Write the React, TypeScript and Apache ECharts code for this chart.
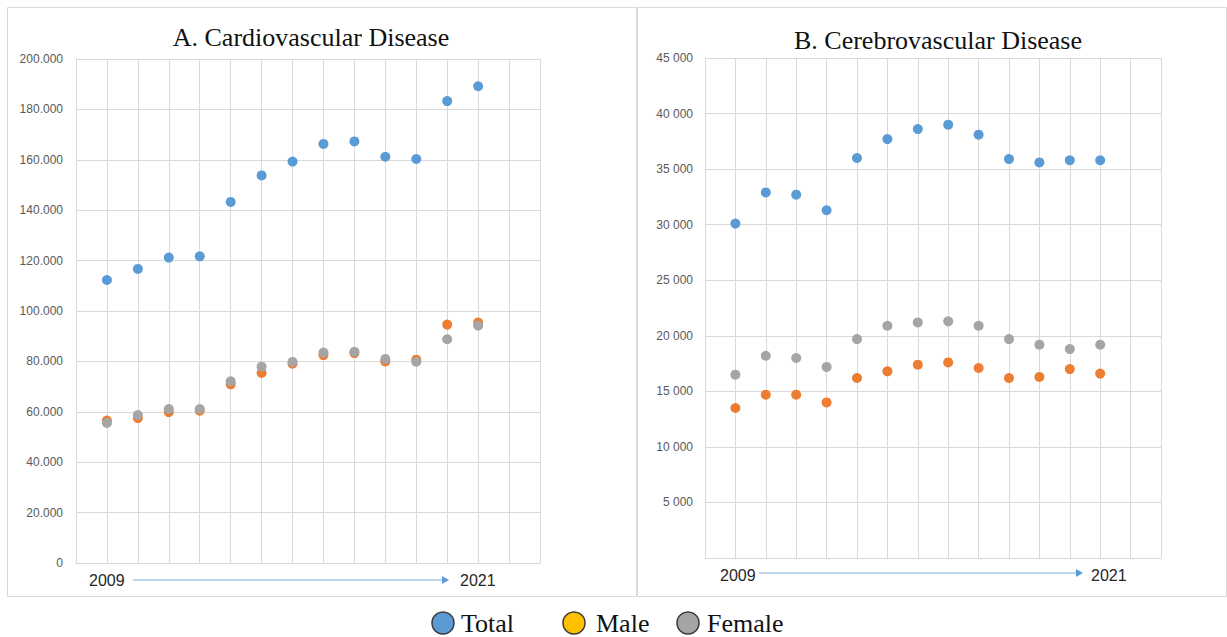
import React, { useEffect, useRef } from "react";
import * as echarts from "echarts";

const years = [2009, 2010, 2011, 2012, 2013, 2014, 2015, 2016, 2017, 2018, 2019, 2020, 2021];

const cvdTotal = [112300, 116700, 121200, 121700, 143300, 153800, 159300, 166300, 167300, 161200, 160300, 183300, 189200];
const cvdMale = [56500, 57500, 59900, 60400, 70900, 75400, 79100, 82500, 83300, 80000, 80700, 94600, 95400];
const cvdFemale = [55600, 58700, 61100, 61100, 72100, 77900, 79800, 83500, 83800, 81000, 79900, 88800, 94200];

const cbvTotal = [30100, 32900, 32700, 31300, 36000, 37700, 38600, 39000, 38100, 35900, 35600, 35800, 35800];
const cbvMale = [13500, 14700, 14700, 14000, 16200, 16800, 17400, 17600, 17100, 16200, 16300, 17000, 16600];
const cbvFemale = [16500, 18200, 18000, 17200, 19700, 20900, 21200, 21300, 20900, 19700, 19200, 18800, 19200];

const titles = ["A. Cardiovascular Disease", "B. Cerebrovascular Disease"];
const legendNames = ["Total", "Male", "Female"];
const seriesColors = ["#5B9BD5", "#ED7D31", "#A5A5A5"];
const legendColors = ["#5B9BD5", "#FFC000", "#A5A5A5"];
const startLabel = "2009";
const endLabel = "2021";

const pairs = (vals: number[]) => years.map((y, i) => [y, vals[i]]);

export default function App() {
  const ref = useRef<HTMLDivElement>(null);
  useEffect(() => {
    if (!ref.current) return;
    const chart = echarts.init(ref.current, undefined, { renderer: "svg" });
    const gridColor = "#d9d9d9";
    const xAxisBase = {
      type: "value",
      min: 2008,
      max: 2023,
      interval: 1,
      axisLabel: { show: false },
      axisTick: { show: false },
      axisLine: { show: true, lineStyle: { color: gridColor } },
      splitLine: { show: true, lineStyle: { color: gridColor } },
    };
    const yAxisBase = {
      type: "value",
      min: 0,
      axisTick: { show: false },
      axisLine: { show: true, lineStyle: { color: gridColor } },
      splitLine: { show: true, lineStyle: { color: gridColor } },
    };
    const sets = [
      [cvdTotal, cvdMale, cvdFemale],
      [cbvTotal, cbvMale, cbvFemale],
    ];
    const series: any[] = [];
    sets.forEach((set, gi) => {
      set.forEach((vals, si) => {
        series.push({
          type: "scatter",
          name: legendNames[si],
          xAxisIndex: gi,
          yAxisIndex: gi,
          symbolSize: 10,
          itemStyle: { color: seriesColors[si], opacity: 1 },
          data: pairs(vals),
        });
      });
    });

    const arrow = (x1: number, x2: number, y: number) => [
      { type: "line", shape: { x1, y1: y, x2: x2 - 6, y2: y }, style: { stroke: "#7FAEDB", lineWidth: 1 } },
      {
        type: "polygon",
        shape: { points: [[x2 - 7, y - 4], [x2, y], [x2 - 7, y + 4]] },
        style: { fill: "#5B9BD5" },
      },
    ];

    const legendItems: any[] = [];
    const legendPos = [
      { cx: 443, tx: 461 },
      { cx: 574, tx: 596 },
      { cx: 688, tx: 707 },
    ];
    legendNames.forEach((n, i) => {
      legendItems.push({
        type: "circle",
        shape: { cx: legendPos[i].cx, cy: 623, r: 11 },
        style: { fill: legendColors[i], stroke: "#3a3a3a", lineWidth: 1.5 },
      });
      legendItems.push({
        type: "text",
        x: legendPos[i].tx,
        y: 623,
        style: {
          text: n,
          font: "26px 'Liberation Serif', 'Times New Roman', serif",
          fill: "#111",
          textVerticalAlign: "middle",
          verticalAlign: "middle",
        },
      });
    });

    const yearFont = "16px 'Liberation Sans', Arial, sans-serif";

    chart.setOption({
      animation: false,
      backgroundColor: "#ffffff",
      grid: [
        { left: 76, top: 59, width: 464, height: 504 },
        { left: 705, top: 58, width: 456, height: 500 },
      ],
      xAxis: [
        { ...xAxisBase, gridIndex: 0 },
        { ...xAxisBase, gridIndex: 1 },
      ],
      yAxis: [
        {
          ...yAxisBase,
          gridIndex: 0,
          max: 200000,
          interval: 20000,
          axisLabel: {
            color: "#595959",
            fontSize: 12,
            margin: 13,
            fontFamily: "'Liberation Sans', Arial, sans-serif",
            formatter: (v: number) => (v === 0 ? "0" : `${v / 1000}.000`),
          },
        },
        {
          ...yAxisBase,
          gridIndex: 1,
          max: 45000,
          interval: 5000,
          axisLabel: {
            color: "#595959",
            fontSize: 12,
            margin: 12,
            fontFamily: "'Liberation Sans', Arial, sans-serif",
            formatter: (v: number) => (v === 0 ? "" : `${v / 1000} 000`),
          },
        },
      ],
      series,
      graphic: [
        {
          type: "rect",
          shape: { x: 7.5, y: 7.5, width: 629, height: 589 },
          style: { fill: "none", stroke: "#d9d9d9", lineWidth: 1 },
          z: -1,
        },
        {
          type: "rect",
          shape: { x: 637.5, y: 7.5, width: 589, height: 589 },
          style: { fill: "none", stroke: "#d9d9d9", lineWidth: 1 },
          z: -1,
        },
        {
          type: "text",
          x: 311,
          y: 37,
          style: {
            text: titles[0],
            font: "26px 'Liberation Serif', 'Times New Roman', serif",
            fill: "#111",
            textAlign: "center",
            textVerticalAlign: "middle",
            align: "center",
            verticalAlign: "middle",
          },
        },
        {
          type: "text",
          x: 938,
          y: 40,
          style: {
            text: titles[1],
            font: "26px 'Liberation Serif', 'Times New Roman', serif",
            fill: "#111",
            textAlign: "center",
            textVerticalAlign: "middle",
            align: "center",
            verticalAlign: "middle",
          },
        },
        {
          type: "text",
          x: 89,
          y: 580,
          style: { text: startLabel, font: yearFont, fill: "#262626", verticalAlign: "middle", textVerticalAlign: "middle" },
        },
        ...arrow(133, 449, 580),
        {
          type: "text",
          x: 460,
          y: 580,
          style: { text: endLabel, font: yearFont, fill: "#262626", verticalAlign: "middle", textVerticalAlign: "middle" },
        },
        {
          type: "text",
          x: 720,
          y: 575,
          style: { text: startLabel, font: yearFont, fill: "#262626", verticalAlign: "middle", textVerticalAlign: "middle" },
        },
        ...arrow(759, 1083, 573),
        {
          type: "text",
          x: 1091,
          y: 575,
          style: { text: endLabel, font: yearFont, fill: "#262626", verticalAlign: "middle", textVerticalAlign: "middle" },
        },
        ...legendItems,
      ],
    });
    return () => chart.dispose();
  }, []);
  return (
    <div
      ref={ref}
      style={{ position: "absolute", left: 0, top: 0, width: 1227, height: 637, background: "#fff" }}
    />
  );
}
